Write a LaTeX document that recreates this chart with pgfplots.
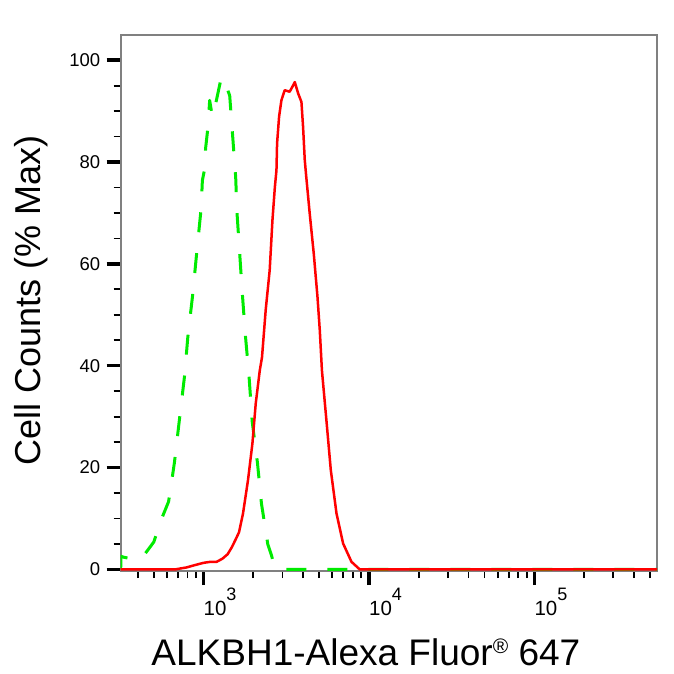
\documentclass[border=0pt]{standalone}
\usepackage{pgfplots}
\pgfplotsset{compat=1.18}
\usepackage{fontspec}
\setmainfont{Liberation Sans}
\definecolor{histred}{RGB}{255,0,0}
\definecolor{histgreen}{RGB}{0,235,0}
\definecolor{axgray}{RGB}{128,128,128}

\newcommand{\dec}[1]{10\raisebox{15pt}{\fontsize{18}{18}\selectfont #1}}

\begin{document}
\begin{tikzpicture}
\begin{axis}[
    scale only axis,
    width=536.5pt, height=536.3pt,
    xmode=log,
    xmin=316, xmax=553000,
    ymin=-0.3, ymax=105,
    axis line style={axgray, line width=2pt},
    tick pos=left, tick align=outside,
    xtick={1000,10000,100000},
    xticklabels={\dec{3}, \dec{4}, \dec{5}},
    minor xtick={400,500,600,700,800,900,2000,3000,4000,5000,6000,7000,8000,9000,
                 20000,30000,40000,50000,60000,70000,80000,90000,200000,300000,400000,500000},
    ytick={0,20,40,60,80,100},
    minor ytick={5,10,15,25,30,35,45,50,55,65,70,75,85,90,95},
    major tick length=14pt, minor tick length=7pt,
    every major tick/.append style={black, line width=3.5pt},
    every minor tick/.append style={black, line width=1.8pt},
    /pgf/number format/assume math mode=true,
    yticklabel style={font=\fontsize{18.5}{20}\selectfont, xshift=-3pt},
    xticklabel style={font=\fontsize{20.5}{22}\selectfont, anchor=north west, inner sep=0pt, yshift=-3pt},
    xlabel={ALKBH1-Alexa Fluor\raisebox{12pt}{\fontsize{21}{21}\selectfont ®} 647},
    xlabel style={at={(axis description cs:0.457,-0.177)}, anchor=base, inner sep=0pt, font=\fontsize{37}{40}\selectfont},
    ylabel={Cell Counts (\% Max)},
    ylabel style={at={(axis description cs:-0.150,0.505)}, anchor=base, inner sep=0pt, font=\fontsize{36}{40}\selectfont},
]
% isotype control (dashed green)
\addplot[histgreen, line width=3pt, line join=round, dash pattern=on 20pt off 21pt] coordinates {
(316,0) (317,2.6) (330,2.4) (370,2.1) (421,2.1) (501,5.4) (548,9.3) (615,13.3)
(644,17.5) (668,21.1) (716,29.5) (768,37.9) (804,45.6) (861,54) (912,62.5)
(968,70.9) (985,76.4) (1017,78.7) (1030,82.7) (1065,86.9) (1090,92.1) (1132,88.9)
(1197,92.1) (1283,96.7) (1359,95.4) (1441,93) (1502,85) (1566,77) (1595,70)
(1656,62) (1719,54) (1792,46) (1885,38) (1971,29) (2119,21) (2240,13) (2446,5)
(2576,2.8) (2700,0.3) (2950,0) (553000,0)
};
% ALKBH1 stained (solid red)
\addplot[histred, line width=2.5pt, line join=round] coordinates {
(316,0) (670,0) (790,0.4) (885,0.85) (1000,1.3) (1100,1.5) (1200,1.5) (1300,2.1)
(1400,3.0) (1480,4.3) (1560,5.8) (1640,7.3) (1734,11.0) (1858,17.5) (1976,24.7)
(2070,32.6) (2190,39.1) (2259,41.7) (2377,50.9) (2514,58.8) (2612,68.6) (2700,75)
(2762,78.4) (2786,83.7) (2865,88.9) (2958,92.1) (3097,94.1) (3319,93.8) (3450,94.8)
(3565,95.7) (3733,93.5) (3910,91.8) (4000,86.9) (4095,80.4) (4170,77.5) (4387,69.9)
(4642,62.0) (4889,53.5) (5047,47.0) (5200,39.1) (5535,29.3) (5885,19.5) (6370,11.0)
(6985,5.1) (7850,1.5) (8810,0) (553000,0)
};
\end{axis}
\path (current axis.south west) ++(-120.7pt,-103pt) rectangle ([shift={(16.8pt,34.7pt)}]current axis.north east);
\end{tikzpicture}
\end{document}
